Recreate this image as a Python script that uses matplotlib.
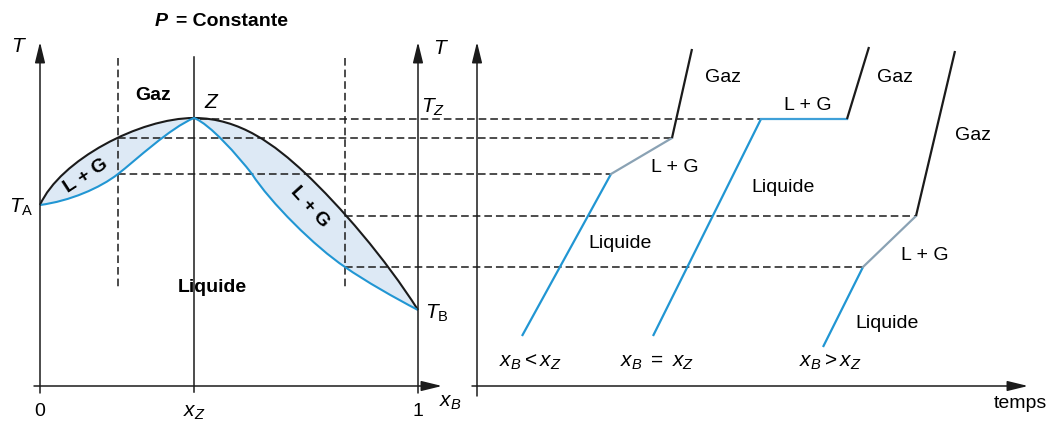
import matplotlib.pyplot as plt
from matplotlib.path import Path
from matplotlib.patches import PathPatch

plt.rcParams['font.family'] = ['Liberation Sans', 'DejaVu Sans']
plt.rcParams['mathtext.fontset'] = 'custom'
plt.rcParams['mathtext.rm'] = 'Liberation Sans'
plt.rcParams['mathtext.it'] = 'Liberation Sans:italic'
plt.rcParams['mathtext.bf'] = 'Liberation Sans:bold'

BLACK = '#1b1b1b'
BLUE = '#2196d3'
GREYBLUE = '#8aa2b4'
FILL = '#dde9f5'

# Isobaric diagram (canvas coordinates, y grows downward)
x_A, x_Zc, x_Bc = 40, 194, 418
y_axis = 386

# dew curve (vapour, black): chain of cubic Bezier pieces T_A -> Z -> T_B
dew_pts = [(40, 205), (60, 160), (140, 118), (194, 118),
           (240, 118), (275, 145), (305, 173),
           (340, 206), (385, 258), (418, 310)]

# bubble curve (liquid, blue): same kind of chain
bub_pts = [(40, 205), (70, 201), (100, 188), (118, 174),
           (136, 160), (170, 128), (194, 118),
           (210, 124), (238, 156), (252, 174),
           (270, 202), (315, 247), (345, 267),
           (365, 281), (395, 298), (418, 310)]

# temperature levels carried over to the cooling curves
lvl_y = [119, 138, 174, 216, 267]
lvl_x0 = [200, 118, 118, 345, 345]
lvl_x1 = [761, 672, 611, 916, 863]

# composition cuts
cut_x = [118, 345]

# cooling curves: liquid, L + G, gas segments
curve1_x = [522, 611, 672, 692]
curve1_y = [336, 174, 138, 49]
curve2_x = [653, 761, 847, 869]
curve2_y = [336, 119, 119, 47]
curve3_x = [823, 863, 916, 955]
curve3_y = [347, 267, 216, 51]


def bezier_chain(pts):
    return Path(pts, [Path.MOVETO] + [Path.CURVE4] * (len(pts) - 1))


fig = plt.figure(figsize=(10.49, 4.21), dpi=100)
ax = fig.add_axes([0, 0, 1, 1])
ax.set_xlim(0, 1049)
ax.set_ylim(421, 0)
ax.axis('off')

# two-phase lens
lens_pts = dew_pts + bub_pts[::-1][1:] + [dew_pts[0]]
lens_codes = ([Path.MOVETO] + [Path.CURVE4] * (len(dew_pts) - 1)
              + [Path.CURVE4] * (len(bub_pts) - 1) + [Path.CLOSEPOLY])
ax.add_patch(PathPatch(Path(lens_pts, lens_codes), facecolor=FILL, lw=0, zorder=1))
ax.add_patch(PathPatch(bezier_chain(dew_pts), facecolor='none', edgecolor=BLACK,
                       lw=1.5, zorder=3))
ax.add_patch(PathPatch(bezier_chain(bub_pts), facecolor='none', edgecolor=BLUE,
                       lw=1.5, zorder=3))

# dashed guides
dash = (0, (5, 2.6))
for y, x0, x1 in zip(lvl_y, lvl_x0, lvl_x1):
    ax.plot([x0, x1], [y, y], color=BLACK, lw=1.1, ls=dash, zorder=2)
for x in cut_x:
    ax.plot([x, x], [58, 288], color=BLACK, lw=1.1, ls=dash, zorder=2)

# axes of the diagram
arrow = dict(arrowstyle='-|>,head_length=0.9,head_width=0.22', color=BLACK,
             lw=1.1, shrinkA=0, shrinkB=0, mutation_scale=14)
ax.annotate('', xy=(x_A, 42), xytext=(x_A, 393), arrowprops=arrow)
ax.annotate('', xy=(x_Bc, 42), xytext=(x_Bc, 393), arrowprops=arrow)
ax.annotate('', xy=(442, y_axis), xytext=(34, y_axis), arrowprops=arrow)
ax.plot([x_Zc, x_Zc], [57, 392], color=BLACK, lw=1.1)

# axes of the cooling curves
ax.annotate('', xy=(477, 42), xytext=(477, 396), arrowprops=arrow)
ax.annotate('', xy=(1028, y_axis), xytext=(472, y_axis), arrowprops=arrow)

for cx, cy, mid in [(curve1_x, curve1_y, GREYBLUE),
                    (curve2_x, curve2_y, '#3fa0d8'),
                    (curve3_x, curve3_y, GREYBLUE)]:
    ax.plot(cx[:2], cy[:2], color=BLUE, lw=1.6, solid_capstyle='butt')
    ax.plot(cx[1:3], cy[1:3], color=mid, lw=1.6)
    ax.plot(cx[2:], cy[2:], color=BLACK, lw=1.6, solid_capstyle='butt')

# labels, diagram
fs = 14
ax.text(168, 22, 'P', fontsize=fs, fontweight='bold', fontstyle='italic',
        ha='right', va='center')
ax.text(176, 22, '= Constante', fontsize=fs, fontweight='bold',
        ha='left', va='center')
ax.text(19, 46, '$T$', fontsize=fs + 1, ha='center', va='center')
ax.text(441, 48, '$T$', fontsize=fs + 1, ha='center', va='center')
ax.text(21, 207, r'$T_\mathrm{A}$', fontsize=fs + 1, ha='center', va='center')
ax.text(437, 313, r'$T_\mathrm{B}$', fontsize=fs + 1, ha='center', va='center')
ax.text(433, 107, '$T_Z$', fontsize=fs + 1, ha='center', va='center')
ax.text(212, 102, '$Z$', fontsize=fs + 1, ha='center', va='center')
ax.text(153, 95, 'Gaz', fontsize=fs, fontweight='bold', ha='center', va='center')
ax.text(212, 287, 'Liquide', fontsize=fs, fontweight='bold', ha='center', va='center')
ax.text(86, 176, 'L + G', fontsize=fs, fontweight='bold', ha='center',
        va='center', rotation=33, zorder=4)
ax.text(310, 207, 'L + G', fontsize=fs, fontweight='bold', ha='center',
        va='center', rotation=-48, zorder=4)
ax.text(40, 412, '0', fontsize=fs, ha='center', va='center')
ax.text(194, 412, '$x_Z$', fontsize=fs + 1, ha='center', va='center')
ax.text(418, 412, '1', fontsize=fs, ha='center', va='center')
ax.text(450, 403, '$x_B$', fontsize=fs + 1, ha='center', va='center')

# labels, cooling curves
ax.text(723, 77, 'Gaz', fontsize=fs, ha='center', va='center')
ax.text(895, 77, 'Gaz', fontsize=fs, ha='center', va='center')
ax.text(973, 135, 'Gaz', fontsize=fs, ha='center', va='center')
ax.text(675, 168, 'L + G', fontsize=fs, ha='center', va='center')
ax.text(808, 106, 'L + G', fontsize=fs, ha='center', va='center')
ax.text(925, 256, 'L + G', fontsize=fs, ha='center', va='center')
ax.text(783, 188, 'Liquide', fontsize=fs, ha='center', va='center')
ax.text(620, 244, 'Liquide', fontsize=fs, ha='center', va='center')
ax.text(887, 323, 'Liquide', fontsize=fs, ha='center', va='center')
ax.text(530, 362, '$x_B<x_Z$', fontsize=fs + 1, ha='center', va='center')
ax.text(657, 362, '$x_B\\ =\\ x_Z$', fontsize=fs + 1, ha='center', va='center')
ax.text(830, 362, '$x_B>x_Z$', fontsize=fs + 1, ha='center', va='center')
ax.text(1020, 404, 'temps', fontsize=fs, ha='center', va='center')

fig.savefig('out.png', dpi=100)
